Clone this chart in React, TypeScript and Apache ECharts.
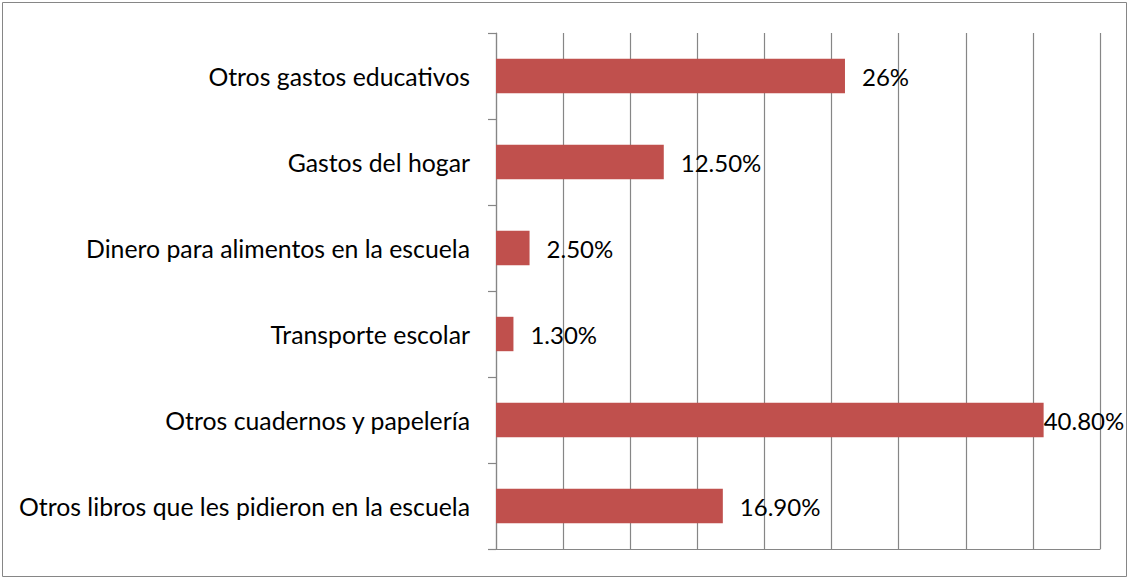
import React, { useEffect, useRef } from "react";
import * as echarts from "echarts";

const categories = [
  "Otros gastos educativos",
  "Gastos del hogar",
  "Dinero para alimentos en la escuela",
  "Transporte escolar",
  "Otros cuadernos y papelería",
  "Otros libros que les pidieron en la escuela",
];
const values = [26, 12.5, 2.5, 1.3, 40.8, 16.9];
const valueLabels = ["26%", "12.50%", "2.50%", "1.30%", "40.80%", "16.90%"];
const labelDistances = [17, 17, 17, 17, 0, 17];

const FONT = "Lato";
const FS_CAT = 24.8;
const FS_VAL = 24;

export default function App() {
  const ref = useRef<HTMLDivElement>(null);
  useEffect(() => {
    document.body.style.margin = "0";
    const chart = echarts.init(ref.current!, null, { renderer: "svg" });
    chart.setOption({
      animation: false,
      backgroundColor: "#ffffff",
      graphic: [
        {
          type: "rect",
          shape: { x: 2.5, y: 2.5, width: 1124, height: 574 },
          style: { fill: "none", stroke: "#868686", lineWidth: 1 },
          silent: true,
        },
      ],
      grid: { left: 496, right: 29, top: 33, bottom: 30, containLabel: false },
      xAxis: {
        type: "value",
        min: 0,
        max: 45,
        interval: 5,
        axisLabel: { show: false },
        axisTick: { show: false },
        axisLine: { show: true, lineStyle: { color: "#868686", width: 1.2 } },
        splitLine: { show: true, lineStyle: { color: "#868686", width: 1.2 } },
      },
      yAxis: {
        type: "category",
        inverse: true,
        data: categories,
        axisLine: { show: true, lineStyle: { color: "#868686", width: 1.2 } },
        axisTick: { show: true, length: 8, inside: false, lineStyle: { color: "#868686", width: 1.2 } },
        axisLabel: { color: "#000000", fontSize: FS_CAT, fontFamily: FONT, margin: 26 },
        splitLine: { show: false },
      },
      series: [
        {
          type: "bar",
          barWidth: "40%",
          itemStyle: { color: "#C0504D" },
          data: values.map((v, i) => ({
            value: v,
            label: {
              show: true,
              position: "right",
              distance: labelDistances[i],
              formatter: () => valueLabels[i],
              color: "#000000",
              fontSize: FS_VAL,
              fontFamily: FONT,
            },
          })),
        },
      ],
    });
    return () => chart.dispose();
  }, []);
  return <div ref={ref} style={{ width: 1129, height: 579 }} />;
}
